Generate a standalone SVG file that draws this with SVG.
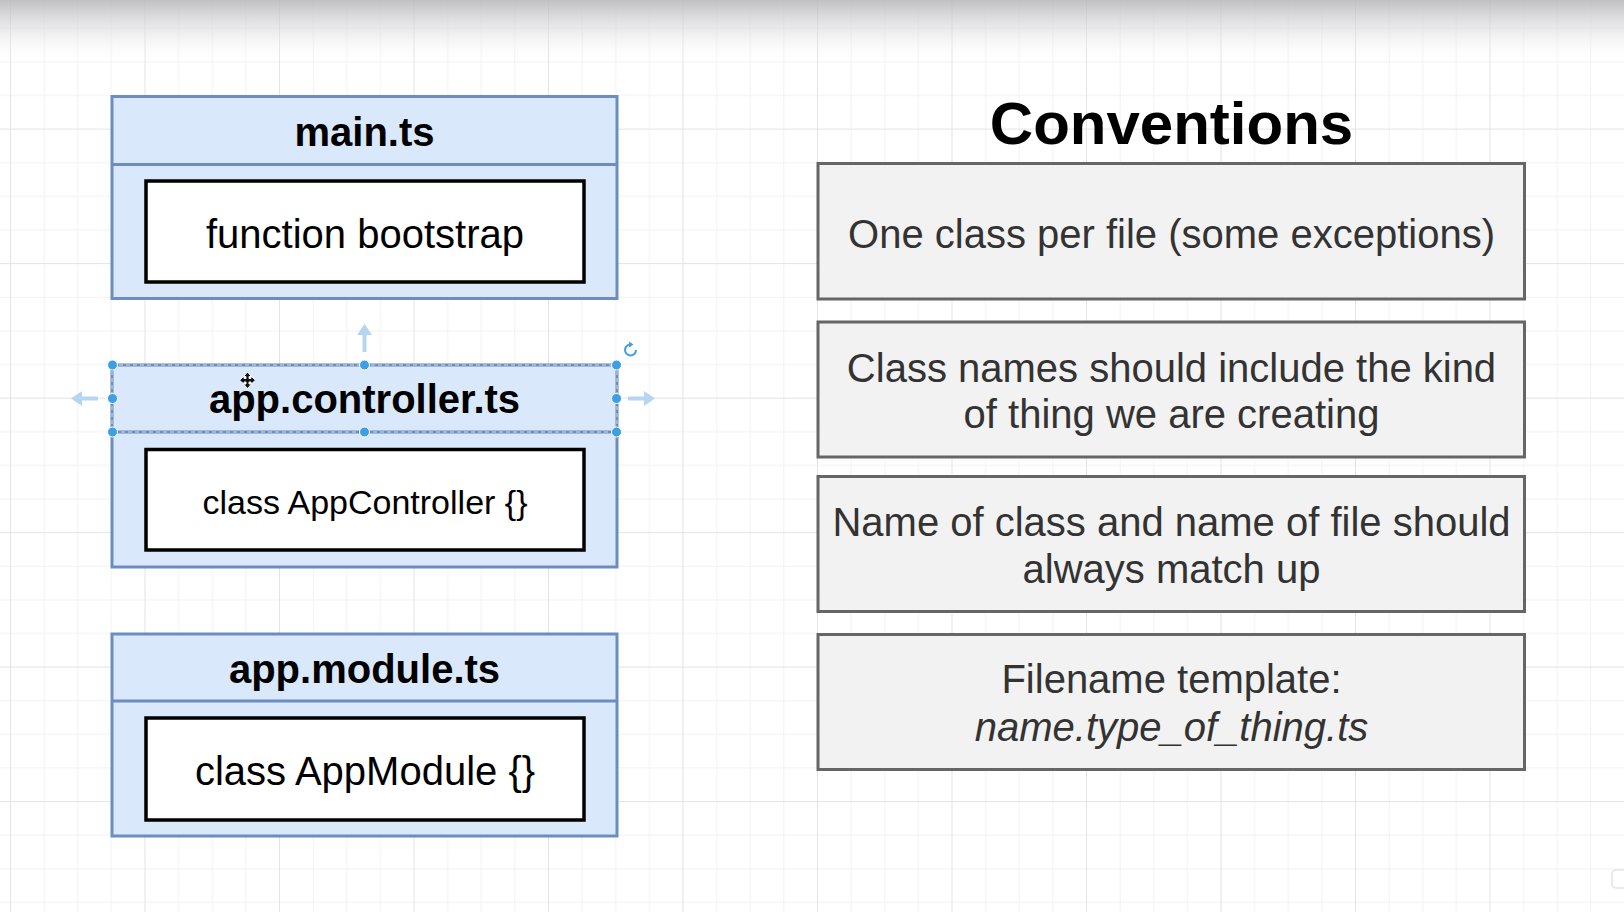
<svg xmlns="http://www.w3.org/2000/svg" width="1624" height="912" viewBox="0 0 1624 912">
  <defs>
    <pattern id="grid" patternUnits="userSpaceOnUse" x="10" y="-5.9" width="134.5" height="134.5">
      <path d="M34.1 0V134.5M67.75 0V134.5M101.4 0V134.5M0 34.1H134.5M0 67.75H134.5M0 101.4H134.5" stroke="#f2f2f2" stroke-width="1" fill="none"/>
      <path d="M0.5 0V134.5M0 0.5H134.5" stroke="#e3e3e3" stroke-width="1" fill="none"/>
    </pattern>
    <linearGradient id="topfade" x1="0" y1="0" x2="0" y2="1">
      <stop offset="0" stop-color="#b9b9bd" stop-opacity="0.9"/>
      <stop offset="0.5" stop-color="#dcdcdf" stop-opacity="0.5"/>
      <stop offset="1" stop-color="#ffffff" stop-opacity="0"/>
    </linearGradient>
    <style>
      .file { fill: #dae8fc; stroke: #6c8ebf; stroke-width: 3; }
      .div { stroke: #6c8ebf; stroke-width: 3; fill: none; }
      .inner { fill: #ffffff; stroke: #000000; stroke-width: 3.5; }
      .conv { fill: #f2f2f2; stroke: #666666; stroke-width: 3; }
      .hdr { font-family: "Liberation Sans", Arial, Helvetica, sans-serif; font-weight: bold; font-size: 40px; fill: #000; text-anchor: middle; }
      .code { font-family: "Liberation Sans", Arial, Helvetica, sans-serif; font-size: 40px; fill: #000; text-anchor: middle; }
      .ctxt { font-family: "Liberation Sans", Arial, Helvetica, sans-serif; font-size: 40px; fill: #333333; text-anchor: middle; }
      .title { font-family: "Liberation Sans", Arial, Helvetica, sans-serif; font-weight: bold; font-size: 60px; fill: #000; text-anchor: middle; }
      .handle { fill: #3f9fe3; stroke: #ffffff; stroke-width: 1; }
      .guide { fill: none; stroke: #b5d5f0; stroke-width: 4; }
      .guidehead { fill: #b5d5f0; }
    </style>
  </defs>

  <rect x="0" y="0" width="1624" height="912" fill="#ffffff"/>
  <rect x="0" y="0" width="1624" height="912" fill="url(#grid)"/>
  <rect x="0" y="0" width="1624" height="64" fill="url(#topfade)"/>

  <g id="main-ts">
    <rect class="file" x="112" y="96.5" width="505" height="202"/>
    <line class="div" x1="112" y1="164.5" x2="617" y2="164.5"/>
    <text class="hdr" x="364.5" y="145.5">main.ts</text>
    <rect class="inner" x="146" y="181" width="438" height="101"/>
    <text class="code" x="365" y="247.5">function bootstrap</text>
  </g>

  <g id="app-controller-ts">
    <rect class="file" x="112" y="365" width="505" height="202"/>
    <line class="div" x1="112" y1="432" x2="617" y2="432"/>
    <text class="hdr" x="364.5" y="413">app.controller.ts</text>
    <rect class="inner" x="146" y="449.5" width="438" height="100.5"/>
    <text class="code" x="365" y="514" style="font-size:34px">class AppController {}</text>
  </g>

  <g id="app-module-ts">
    <rect class="file" x="112" y="634" width="505" height="202"/>
    <line class="div" x1="112" y1="701" x2="617" y2="701"/>
    <text class="hdr" x="364.5" y="683">app.module.ts</text>
    <rect class="inner" x="146" y="718" width="438" height="102"/>
    <text class="code" x="365" y="784.5">class AppModule {}</text>
  </g>

  <g id="selection">
    <rect x="112" y="365" width="505" height="67" fill="none" stroke="#9fb6d3" stroke-width="2.5" stroke-dasharray="4 3"/>
    <path class="guide" d="M364.5 352V333"/>
    <path class="guidehead" d="M364.5 324L357 335H372Z"/>
    <path class="guide" d="M98 398.5H80"/>
    <path class="guidehead" d="M71 398.5L82 391V406Z"/>
    <path class="guide" d="M628 398.5H646"/>
    <path class="guidehead" d="M655 398.5L644 391V406Z"/>
    <circle class="handle" cx="112.5" cy="365" r="5"/>
    <circle class="handle" cx="364.5" cy="365" r="5"/>
    <circle class="handle" cx="616.5" cy="365" r="5"/>
    <circle class="handle" cx="112.5" cy="398.5" r="5"/>
    <circle class="handle" cx="616.5" cy="398.5" r="5"/>
    <circle class="handle" cx="112.5" cy="432" r="5"/>
    <circle class="handle" cx="364.5" cy="432" r="5"/>
    <circle class="handle" cx="616.5" cy="432" r="5"/>
    <path d="M636 350A5.5 5.5 0 1 1 631 344.5" fill="none" stroke="#3f9fe3" stroke-width="2"/>
    <path d="M629 341.5L633.5 344.5L629 347.5Z" fill="#3f9fe3"/>
    <path d="M247.5 372L251.5 376.5H249V378.5H251V376.2L255.5 380.2L251 384.2V382H249V384H251.5L247.5 388.5L243.5 384H246V382H244V384.2L239.5 380.2L244 376.2V378.5H246V376.5H243.5Z" fill="#111" stroke="#ffffff" stroke-width="1"/>
  </g>

  <g id="conventions-title">
    <text class="title" x="1171.5" y="143.5">Conventions</text>
  </g>

  <g id="conv-1">
    <rect class="conv" x="818" y="163.5" width="706.5" height="135.5"/>
    <text class="ctxt" x="1171.5" y="248.3">One class per file (some exceptions)</text>
  </g>

  <g id="conv-2">
    <rect class="conv" x="818" y="322" width="706.5" height="135"/>
    <text class="ctxt" x="1171.5" y="381.7">Class names should include the kind</text>
    <text class="ctxt" x="1171.5" y="428.3">of thing we are creating</text>
  </g>

  <g id="conv-3">
    <rect class="conv" x="818" y="476.5" width="706.5" height="135"/>
    <text class="ctxt" x="1171.5" y="535.7">Name of class and name of file should</text>
    <text class="ctxt" x="1171.5" y="583">always match up</text>
  </g>

  <g id="conv-4">
    <rect class="conv" x="818" y="634.5" width="706.5" height="135"/>
    <text class="ctxt" x="1171.5" y="693.3">Filename template:</text>
    <text class="ctxt" x="1171.5" y="740.7" font-style="italic">name.type_of_thing.ts</text>
  </g>

  <g id="connectors"></g>

  <rect x="1612" y="870" width="16" height="18" rx="4" fill="none" stroke="#e2e2e2" stroke-width="1.5"/>
</svg>
